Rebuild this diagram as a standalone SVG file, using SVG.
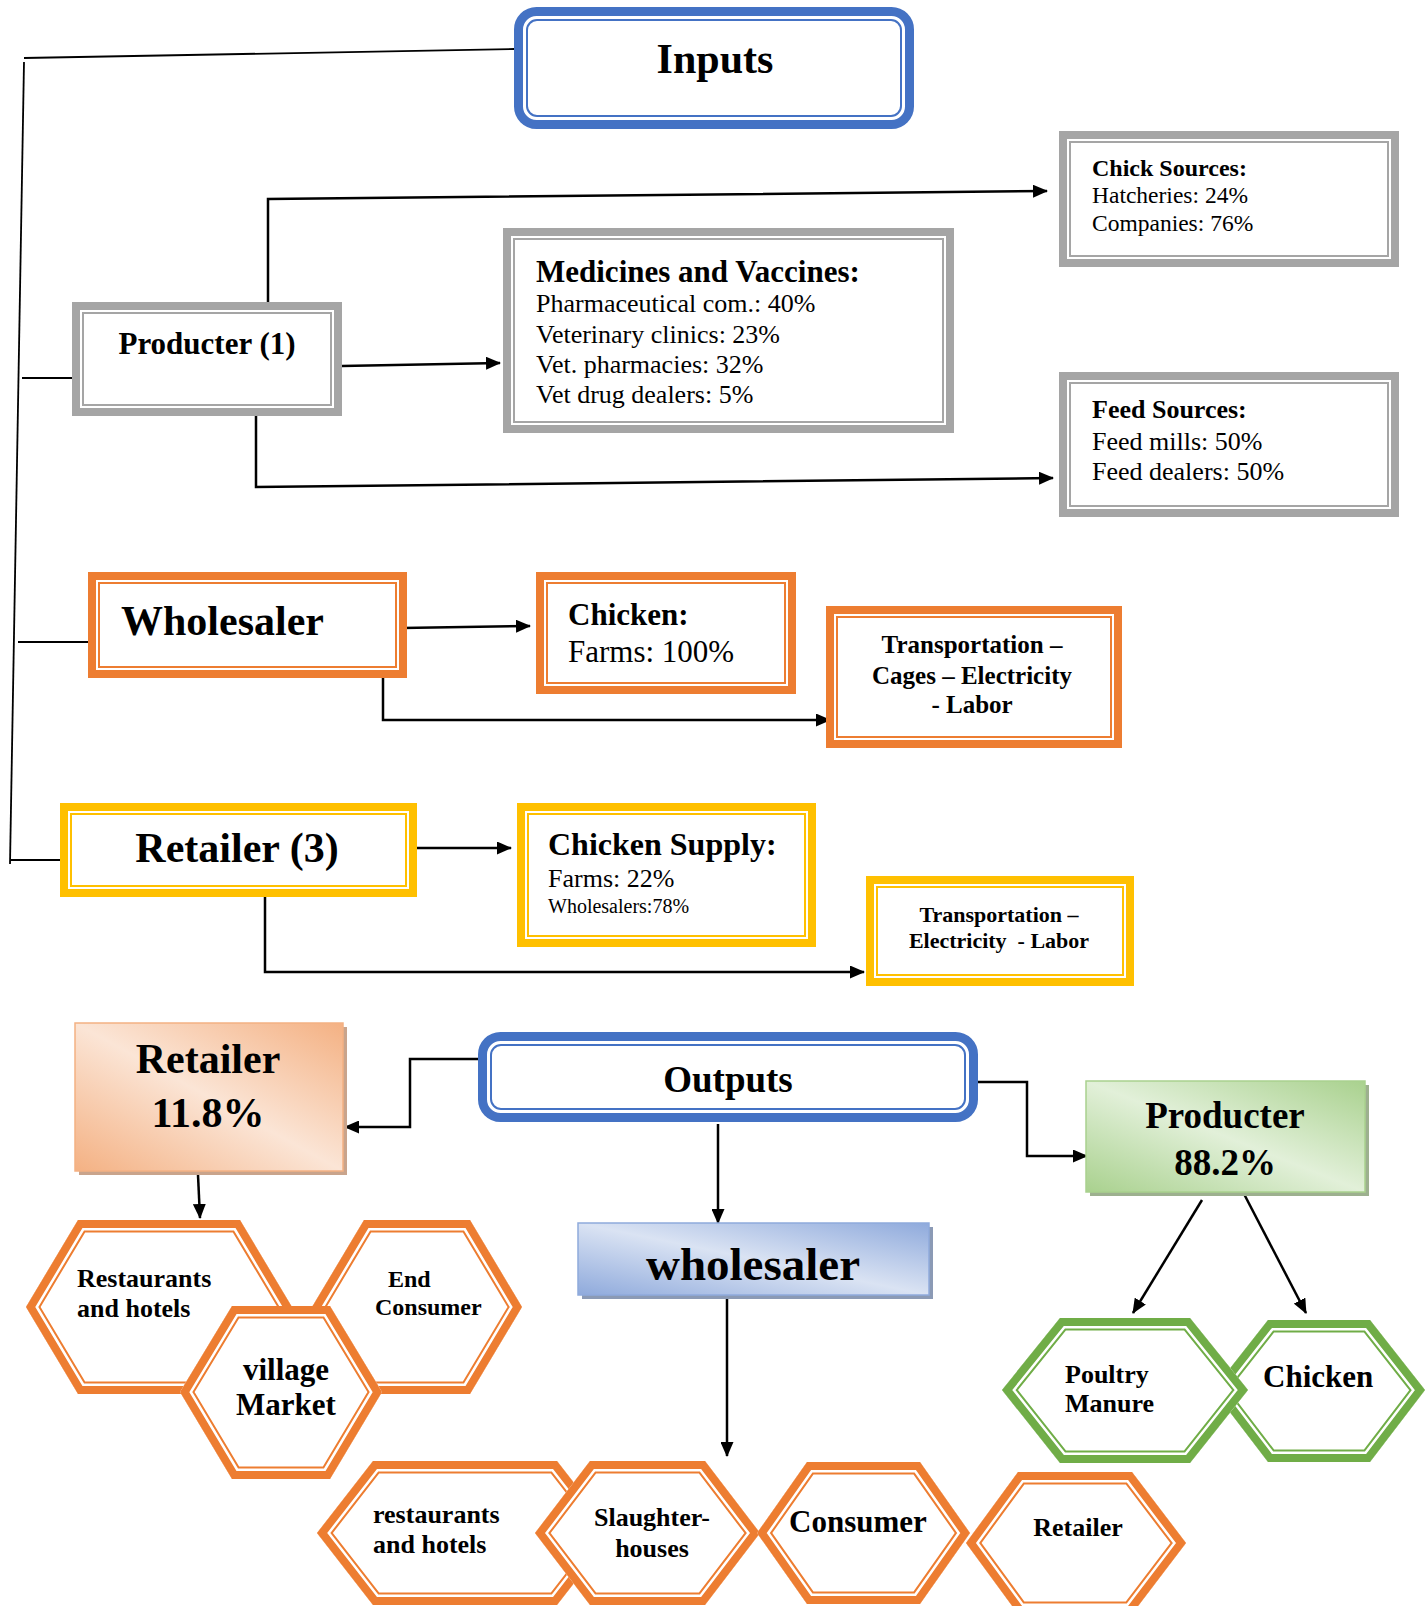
<svg xmlns="http://www.w3.org/2000/svg" xmlns:xlink="http://www.w3.org/1999/xlink" width="1425" height="1606" viewBox="0 0 1425 1606">
<style>
.t{font-family:"Liberation Serif","Times New Roman",serif;fill:#000}
.b{font-weight:bold}
.thick{stroke-width:8;fill:#fff}
.thin{stroke-width:2;fill:none}
.gray{stroke:#A5A5A5}
.org{stroke:#ED7D31}
.yel{stroke:#FFC000}
.blue{stroke:#4472C4}
.ln{fill:none;stroke:#000;stroke-width:2.5}
.ln2{fill:none;stroke:#000;stroke-width:1.8}
.h1o{fill:#fff;stroke:#ED7D31;stroke-width:25}
.h2{fill:none;stroke:#fff;stroke-width:21}
.h3o{fill:none;stroke:#ED7D31;stroke-width:16}
.h1g{fill:#fff;stroke:#70AD47;stroke-width:25}
.h3g{fill:none;stroke:#70AD47;stroke-width:16}
</style>
<defs>
<marker id="ah" markerWidth="15" markerHeight="13" refX="14" refY="6.5" orient="auto" markerUnits="userSpaceOnUse"><path d="M0,0 L15,6.5 L0,13 z" fill="#000"/></marker>
<linearGradient id="gO" x1="1" y1="0" x2="0" y2="1"><stop offset="0" stop-color="#F4B183"/><stop offset="0.5" stop-color="#FBE5D6"/><stop offset="1" stop-color="#F4B183"/></linearGradient>
<linearGradient id="gG" x1="1" y1="0" x2="0" y2="1"><stop offset="0" stop-color="#A9D18E"/><stop offset="0.5" stop-color="#E2F0D9"/><stop offset="1" stop-color="#A9D18E"/></linearGradient>
<linearGradient id="gB" x1="1" y1="0" x2="0" y2="1"><stop offset="0" stop-color="#8FAADC"/><stop offset="0.5" stop-color="#DAE3F3"/><stop offset="1" stop-color="#8FAADC"/></linearGradient>
<polygon id="hA" points="26,1307 78,1220 240,1220 292,1307 240,1394 78,1394"/>
<polygon id="hB" points="312,1307 364,1220 470,1220 522,1307 470,1394 364,1394"/>
<polygon id="hC" points="180,1392 232,1306 330,1306 382,1392 330,1479 232,1479"/>
<polygon id="hD" points="317,1533 373,1461 557,1461 613,1533 557,1605 373,1605"/>
<polygon id="hE" points="535,1533 590,1461 705,1461 760,1533 705,1605 590,1605"/>
<polygon id="hF" points="757,1533 807,1462 920,1462 970,1533 920,1604 807,1604"/>
<polygon id="hG" points="966,1543 1018,1472 1132,1472 1186,1543 1132,1614 1018,1614"/>
<polygon id="hH" points="1002,1390 1060,1318 1190,1318 1248,1390 1190,1463 1060,1463"/>
<polygon id="hI" points="1213,1390 1268,1320 1370,1320 1425,1390 1370,1462 1268,1462"/>
<clipPath id="cA"><use xlink:href="#hA"/></clipPath>
<clipPath id="cB"><use xlink:href="#hB"/></clipPath>
<clipPath id="cC"><use xlink:href="#hC"/></clipPath>
<clipPath id="cD"><use xlink:href="#hD"/></clipPath>
<clipPath id="cE"><use xlink:href="#hE"/></clipPath>
<clipPath id="cF"><use xlink:href="#hF"/></clipPath>
<clipPath id="cG"><use xlink:href="#hG"/></clipPath>
<clipPath id="cH"><use xlink:href="#hH"/></clipPath>
<clipPath id="cI"><use xlink:href="#hI"/></clipPath>
</defs>
<rect width="1425" height="1606" fill="#fff"/>

<g id="connectors">
<line class="ln2" x1="514" y1="49" x2="24" y2="58"/>
<line class="ln2" x1="24" y1="62" x2="10" y2="864"/>
<line class="ln2" x1="22" y1="378" x2="76" y2="378"/>
<line class="ln2" x1="18" y1="642" x2="88" y2="642"/>
<line class="ln2" x1="10" y1="860" x2="60" y2="860"/>
<polyline class="ln" points="268,302 268,199 1047,191" marker-end="url(#ah)"/>
<line class="ln" x1="342" y1="366" x2="500" y2="363" marker-end="url(#ah)"/>
<polyline class="ln" points="256,416 256,487 1053,478" marker-end="url(#ah)"/>
<line class="ln" x1="402" y1="628" x2="530" y2="626" marker-end="url(#ah)"/>
<polyline class="ln" points="383,678 383,720 830,720" marker-end="url(#ah)"/>
<line class="ln" x1="412" y1="848" x2="511" y2="848" marker-end="url(#ah)"/>
<polyline class="ln" points="265,893 265,972 864,972" marker-end="url(#ah)"/>
<polyline class="ln" points="479,1059 410,1059 410,1127 345,1127" marker-end="url(#ah)"/>
<polyline class="ln" points="968,1082 1027,1082 1027,1156 1087,1156" marker-end="url(#ah)"/>
<line class="ln" x1="718" y1="1124" x2="718" y2="1223" marker-end="url(#ah)"/>
<line class="ln" x1="198" y1="1175" x2="200" y2="1218" marker-end="url(#ah)"/>
<line class="ln" x1="727" y1="1296" x2="727" y2="1456" marker-end="url(#ah)"/>
<line class="ln" x1="1202" y1="1200" x2="1133" y2="1313" marker-end="url(#ah)"/>
<line class="ln" x1="1243" y1="1192" x2="1306" y2="1313" marker-end="url(#ah)"/>
</g>

<g id="inputs">
<rect class="thick blue" x="518.5" y="11.5" width="391" height="113" rx="18" style="stroke-width:9"/>
<rect class="thin blue" x="527" y="20" width="374" height="96" rx="10"/>
<text class="t b" x="715" y="73" font-size="42" text-anchor="middle">Inputs</text>
</g>

<g id="producter1">
<rect class="thick gray" x="76" y="306" width="262" height="106"/>
<rect class="thin gray" x="83" y="313" width="248" height="92"/>
<text class="t b" x="207" y="354" font-size="31" text-anchor="middle">Producter (1)</text>
</g>

<g id="medicines">
<rect class="thick gray" x="507" y="232" width="443" height="197"/>
<rect class="thin gray" x="514" y="239" width="429" height="183"/>
<text class="t b" x="536" y="282" font-size="31">Medicines and Vaccines:</text>
<text class="t" x="536" y="312" font-size="26">Pharmaceutical com.: 40%</text>
<text class="t" x="536" y="343" font-size="26">Veterinary clinics: 23%</text>
<text class="t" x="536" y="373" font-size="26">Vet. pharmacies: 32%</text>
<text class="t" x="536" y="403" font-size="26">Vet drug dealers: 5%</text>
</g>

<g id="chick-sources">
<rect class="thick gray" x="1063" y="135" width="332" height="128"/>
<rect class="thin gray" x="1070" y="142" width="318" height="114"/>
<text class="t b" x="1092" y="176" font-size="24">Chick Sources:</text>
<text class="t" x="1092" y="203" font-size="23.5">Hatcheries: 24%</text>
<text class="t" x="1092" y="231" font-size="23.5">Companies: 76%</text>
</g>

<g id="feed-sources">
<rect class="thick gray" x="1063" y="376" width="332" height="137"/>
<rect class="thin gray" x="1070" y="383" width="318" height="123"/>
<text class="t b" x="1092" y="418" font-size="26">Feed Sources:</text>
<text class="t" x="1092" y="450" font-size="26">Feed mills: 50%</text>
<text class="t" x="1092" y="480" font-size="26">Feed dealers: 50%</text>
</g>

<g id="wholesaler2">
<rect class="thick org" x="92" y="576" width="311" height="98"/>
<rect class="thin org" x="99" y="583" width="297" height="84"/>
<text class="t b" x="121" y="635" font-size="42">Wholesaler</text>
</g>

<g id="chicken-farms">
<rect class="thick org" x="540" y="576" width="252" height="114"/>
<rect class="thin org" x="547" y="583" width="238" height="100"/>
<text class="t b" x="568" y="625" font-size="31">Chicken:</text>
<text class="t" x="568" y="662" font-size="31">Farms: 100%</text>
</g>

<g id="transport-wholesaler">
<rect class="thick org" x="830" y="610" width="288" height="134"/>
<rect class="thin org" x="837" y="617" width="274" height="120"/>
<text class="t b" x="972" y="653" font-size="25" text-anchor="middle">Transportation –</text>
<text class="t b" x="972" y="684" font-size="25" text-anchor="middle">Cages – Electricity</text>
<text class="t b" x="972" y="713" font-size="25" text-anchor="middle">- Labor</text>
</g>

<g id="retailer3">
<rect class="thick yel" x="64" y="807" width="349" height="86"/>
<rect class="thin yel" x="71" y="814" width="335" height="72"/>
<text class="t b" x="237" y="862" font-size="42" text-anchor="middle">Retailer (3)</text>
</g>

<g id="chicken-supply">
<rect class="thick yel" x="521" y="807" width="291" height="136"/>
<rect class="thin yel" x="528" y="814" width="277" height="122"/>
<text class="t b" x="548" y="855" font-size="32">Chicken Supply:</text>
<text class="t" x="548" y="887" font-size="26">Farms: 22%</text>
<text class="t" x="548" y="913" font-size="20">Wholesalers:78%</text>
</g>

<g id="transport-retailer">
<rect class="thick yel" x="870" y="880" width="260" height="102"/>
<rect class="thin yel" x="877" y="887" width="246" height="88"/>
<text class="t b" x="999" y="922" font-size="22" text-anchor="middle">Transportation –</text>
<text class="t b" x="999" y="948" font-size="22" text-anchor="middle" xml:space="preserve">Electricity  - Labor</text>
</g>

<g id="outputs">
<rect class="thick blue" x="482.5" y="1036.5" width="491" height="81" rx="18" style="stroke-width:9"/>
<rect class="thin blue" x="491" y="1045" width="474" height="64" rx="10"/>
<text class="t b" x="728" y="1092" font-size="37" text-anchor="middle">Outputs</text>
</g>

<g id="retailer-share">
<rect x="79" y="1027" width="268" height="148" fill="#C9A48C"/>
<rect x="75" y="1023" width="268" height="148" fill="url(#gO)" stroke="#F4B183" stroke-width="1.5"/>
<text class="t b" x="208" y="1073" font-size="42" text-anchor="middle">Retailer</text>
<text class="t b" x="208" y="1127" font-size="42" text-anchor="middle">11.8%</text>
</g>

<g id="wholesaler-out">
<rect x="582" y="1227" width="351" height="72" fill="#8B9AB5"/>
<rect x="578" y="1223" width="351" height="72" fill="url(#gB)" stroke="#8FAADC" stroke-width="1.5"/>
<text class="t b" x="753" y="1280" font-size="47" text-anchor="middle">wholesaler</text>
</g>

<g id="producter-share">
<rect x="1090" y="1085" width="279" height="111" fill="#9DB08F"/>
<rect x="1086" y="1081" width="279" height="111" fill="url(#gG)" stroke="#A9D18E" stroke-width="1.5"/>
<text class="t b" x="1225" y="1128" font-size="37" text-anchor="middle">Producter</text>
<text class="t b" x="1225" y="1175" font-size="37" text-anchor="middle">88.2%</text>
</g>

<g id="hex-restaurants-hotels">
<g clip-path="url(#cA)"><use xlink:href="#hA" class="h1o"/><use xlink:href="#hA" class="h2"/><use xlink:href="#hA" class="h3o"/></g>
<text class="t b" x="77" y="1287" font-size="26">Restaurants</text>
<text class="t b" x="77" y="1317" font-size="26">and hotels</text>
</g>
<g id="hex-end-consumer">
<g clip-path="url(#cB)"><use xlink:href="#hB" class="h1o"/><use xlink:href="#hB" class="h2"/><use xlink:href="#hB" class="h3o"/></g>
<text class="t b" x="388" y="1287" font-size="24">End</text>
<text class="t b" x="375" y="1315" font-size="24">Consumer</text>
</g>
<g id="hex-village-market">
<g clip-path="url(#cC)"><use xlink:href="#hC" class="h1o"/><use xlink:href="#hC" class="h2"/><use xlink:href="#hC" class="h3o"/></g>
<text class="t b" x="286" y="1380" font-size="31" text-anchor="middle">village</text>
<text class="t b" x="286" y="1415" font-size="31" text-anchor="middle">Market</text>
</g>

<g id="hex-restaurants-hotels-2">
<g clip-path="url(#cD)"><use xlink:href="#hD" class="h1o"/><use xlink:href="#hD" class="h2"/><use xlink:href="#hD" class="h3o"/></g>
<text class="t b" x="373" y="1523" font-size="26">restaurants</text>
<text class="t b" x="373" y="1553" font-size="26">and hotels</text>
</g>
<g id="hex-slaughterhouses">
<g clip-path="url(#cE)"><use xlink:href="#hE" class="h1o"/><use xlink:href="#hE" class="h2"/><use xlink:href="#hE" class="h3o"/></g>
<text class="t b" x="652" y="1526" font-size="26" text-anchor="middle">Slaughter-</text>
<text class="t b" x="652" y="1557" font-size="26" text-anchor="middle">houses</text>
</g>
<g id="hex-consumer">
<g clip-path="url(#cF)"><use xlink:href="#hF" class="h1o"/><use xlink:href="#hF" class="h2"/><use xlink:href="#hF" class="h3o"/></g>
<text class="t b" x="858" y="1532" font-size="31" text-anchor="middle">Consumer</text>
</g>
<g id="hex-retailer">
<g clip-path="url(#cG)"><use xlink:href="#hG" class="h1o"/><use xlink:href="#hG" class="h2"/><use xlink:href="#hG" class="h3o"/></g>
<text class="t b" x="1078" y="1536" font-size="26" text-anchor="middle">Retailer</text>
</g>

<g id="hex-chicken">
<g clip-path="url(#cI)"><use xlink:href="#hI" class="h1g"/><use xlink:href="#hI" class="h2"/><use xlink:href="#hI" class="h3g"/></g>
<text class="t b" x="1263" y="1387" font-size="31">Chicken</text>
</g>
<g id="hex-poultry-manure">
<g clip-path="url(#cH)"><use xlink:href="#hH" class="h1g"/><use xlink:href="#hH" class="h2"/><use xlink:href="#hH" class="h3g"/></g>
<text class="t b" x="1065" y="1383" font-size="26">Poultry</text>
<text class="t b" x="1065" y="1412" font-size="26">Manure</text>
</g>
</svg>
